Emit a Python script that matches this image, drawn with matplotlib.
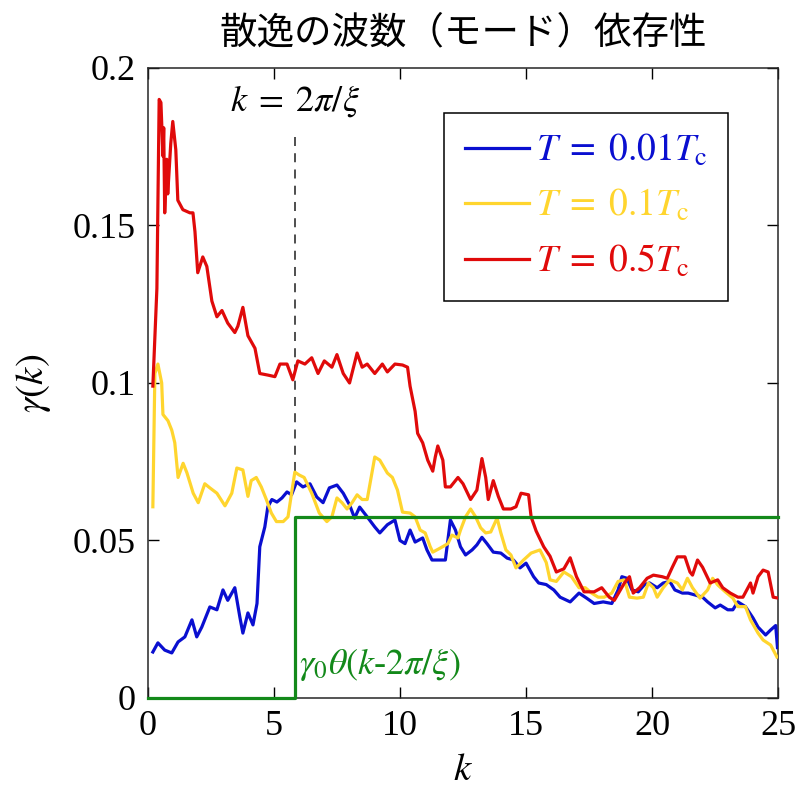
import matplotlib
matplotlib.use('Agg')
import matplotlib.pyplot as plt
import numpy as np

plt.rcParams['font.family'] = ['Liberation Serif', 'Noto Sans CJK JP', 'DejaVu Sans']
plt.rcParams['mathtext.fontset'] = 'stix'

k_red = [0.2, 0.36, 0.45, 0.52, 0.6, 0.63, 0.67, 0.75, 0.79, 0.91, 0.99, 1.11, 1.19, 1.39, 1.67, 1.79,
         1.87, 1.98, 2.18, 2.34, 2.54, 2.74, 2.94, 3.17, 3.45, 3.57, 3.77, 3.97, 4.25, 4.44, 4.76, 5.04,
         5.24, 5.52, 5.75, 5.95, 6.23, 6.5, 6.75, 7.0, 7.3, 7.5, 7.75, 8.0, 8.3, 8.5, 8.7, 9.0, 9.3, 9.5,
         9.8, 10.1, 10.3, 10.4, 10.6, 10.7, 10.9, 11.1, 11.3, 11.4, 11.5, 11.7, 11.8, 12.0, 12.3, 12.5,
         12.8, 13.05, 13.25, 13.4, 13.5, 13.7, 13.9, 14.1, 14.4, 14.6, 14.8, 15.1, 15.2, 15.4, 15.7, 15.95,
         16.2, 16.5, 16.75, 17.0, 17.3, 17.7, 18.0, 18.3, 18.5, 18.9, 19.1, 19.25, 19.5, 19.8, 20.05, 20.4,
         20.6, 20.8, 21.0, 21.3, 21.5, 21.6, 21.8, 22.0, 22.3, 22.6, 22.8, 23.1, 23.4, 23.6, 23.9, 24.0,
         24.2, 24.4, 24.6, 24.8, 25.0]
g_red = [0.099, 0.13, 0.19, 0.189, 0.172, 0.181, 0.154, 0.171, 0.160, 0.176, 0.183, 0.174, 0.158, 0.155,
         0.154, 0.154, 0.148, 0.135, 0.140, 0.137, 0.126, 0.121, 0.123, 0.119, 0.116, 0.118, 0.124, 0.115,
         0.111, 0.103, 0.1025, 0.102, 0.106, 0.106, 0.101, 0.107, 0.106, 0.108, 0.103, 0.107, 0.105, 0.109,
         0.103, 0.100, 0.1095, 0.105, 0.106, 0.103, 0.106, 0.1035, 0.106, 0.1057, 0.105, 0.099, 0.091,
         0.084, 0.081, 0.0755, 0.072, 0.0765, 0.080, 0.0755, 0.067, 0.067, 0.070, 0.068, 0.063, 0.066,
         0.076, 0.070, 0.063, 0.069, 0.064, 0.060, 0.060, 0.0607, 0.065, 0.0645, 0.0575, 0.053, 0.048,
         0.045, 0.040, 0.041, 0.0445, 0.0385, 0.0337, 0.0337, 0.035, 0.032, 0.031, 0.0365, 0.0385, 0.0333,
         0.035, 0.038, 0.039, 0.0385, 0.038, 0.0415, 0.0448, 0.0448, 0.040, 0.039, 0.0438, 0.0415, 0.0365,
         0.0375, 0.035, 0.0333, 0.032, 0.032, 0.0365, 0.0333, 0.0385, 0.0406, 0.040, 0.032, 0.0317]

k_yel = [0.2, 0.28, 0.4, 0.55, 0.6, 0.8, 0.95, 1.07, 1.2, 1.4, 1.55, 1.8, 2.0, 2.26, 2.46, 2.74, 3.06,
         3.33, 3.53, 3.77, 3.97, 4.1, 4.3, 4.5, 4.7, 4.9, 5.1, 5.37, 5.56, 5.7, 5.83, 6.0, 6.2, 6.5, 6.8,
         7.1, 7.3, 7.5, 7.7, 7.9, 8.1, 8.3, 8.5, 8.7, 9.0, 9.2, 9.5, 9.7, 9.9, 10.1, 10.4, 10.6, 10.8,
         11.0, 11.2, 11.3, 11.6, 11.9, 12.06, 12.3, 12.4, 12.6, 12.8, 13.0, 13.2, 13.4, 13.6, 13.85, 14.0,
         14.2, 14.4, 14.6, 14.9, 15.2, 15.55, 15.8, 15.95, 16.2, 16.5, 16.8, 17.1, 17.35, 17.6, 17.86,
         18.1, 18.4, 18.65, 18.9, 19.1, 19.4, 19.65, 19.85, 20.05, 20.2, 20.44, 20.7, 21.0, 21.2, 21.4,
         21.6, 21.9, 22.2, 22.4, 22.6, 22.9, 23.2, 23.4, 23.7, 23.9, 24.2, 24.4, 24.7, 24.95]
g_yel = [0.0607, 0.103, 0.106, 0.100, 0.090, 0.088, 0.085, 0.081, 0.070, 0.0745, 0.0715, 0.065, 0.062,
         0.068, 0.0667, 0.065, 0.061, 0.065, 0.073, 0.0724, 0.064, 0.069, 0.070, 0.067, 0.063, 0.0587,
         0.056, 0.056, 0.0575, 0.065, 0.0717, 0.0708, 0.070, 0.065, 0.0587, 0.056, 0.0575, 0.0635, 0.062,
         0.060, 0.062, 0.0645, 0.063, 0.063, 0.0765, 0.0755, 0.0714, 0.070, 0.066, 0.059, 0.0587, 0.0575,
         0.0533, 0.0524, 0.048, 0.0463, 0.0476, 0.049, 0.0517, 0.0508, 0.0533, 0.0575, 0.060, 0.0575,
         0.054, 0.0524, 0.0527, 0.0571, 0.0524, 0.047, 0.0454, 0.0413, 0.0438, 0.046, 0.047, 0.043, 0.0375,
         0.037, 0.040, 0.0385, 0.035, 0.035, 0.0333, 0.032, 0.032, 0.0333, 0.037, 0.0375, 0.032, 0.0317,
         0.032, 0.0365, 0.035, 0.032, 0.035, 0.0375, 0.0365, 0.0343, 0.038, 0.035, 0.0317, 0.0343, 0.038,
         0.0359, 0.0337, 0.0317, 0.029, 0.029, 0.0248, 0.0206, 0.0184, 0.0168, 0.013]

k_blu = [0.2, 0.4, 0.67, 0.95, 1.2, 1.47, 1.75, 1.94, 2.14, 2.46, 2.74, 2.98, 3.17, 3.45, 3.65, 3.77,
         3.97, 4.17, 4.33, 4.44, 4.64, 4.76, 4.92, 5.12, 5.32, 5.52, 5.7, 5.9, 6.15, 6.43, 6.7, 6.95, 7.2,
         7.5, 7.75, 8.0, 8.2, 8.4, 8.7, 9.0, 9.2, 9.5, 9.8, 10.0, 10.2, 10.4, 10.6, 10.9, 11.07, 11.27,
         11.5, 11.8, 12.0, 12.2, 12.4, 12.6, 12.86, 13.05, 13.25, 13.45, 13.7, 14.0, 14.25, 14.5, 14.76,
         15.0, 15.3, 15.5, 15.8, 16.1, 16.35, 16.75, 17.1, 17.4, 17.7, 18.06, 18.4, 18.65, 18.8, 19.0,
         19.2, 19.45, 19.7, 19.9, 20.2, 20.44, 20.7, 20.9, 21.2, 21.43, 21.7, 22.0, 22.2, 22.5, 22.7, 23.0,
         23.2, 23.4, 23.7, 24.0, 24.2, 24.5, 24.7, 24.9, 24.97]
g_blu = [0.0146, 0.0175, 0.0152, 0.0143, 0.0178, 0.0194, 0.0248, 0.0194, 0.0225, 0.0289, 0.028, 0.0343,
         0.031, 0.035, 0.0257, 0.0206, 0.027, 0.0232, 0.030, 0.048, 0.0543, 0.0607, 0.063, 0.0622, 0.0635,
         0.0654, 0.0645, 0.0686, 0.067, 0.068, 0.0638, 0.062, 0.0667, 0.0676, 0.065, 0.0613, 0.0571,
         0.0606, 0.0575, 0.0543, 0.0524, 0.055, 0.0565, 0.050, 0.049, 0.0533, 0.0495, 0.0508, 0.047,
         0.0438, 0.0438, 0.0438, 0.0565, 0.0533, 0.048, 0.0454, 0.047, 0.0486, 0.051, 0.049, 0.0463,
         0.046, 0.0444, 0.0438, 0.0413, 0.0428, 0.0385, 0.0365, 0.036, 0.0343, 0.032, 0.0305, 0.0333,
         0.0317, 0.030, 0.0305, 0.030, 0.0343, 0.0385, 0.038, 0.0343, 0.0337, 0.036, 0.0365, 0.035, 0.0365,
         0.037, 0.0343, 0.0333, 0.0333, 0.0327, 0.032, 0.0305, 0.0286, 0.0295, 0.028, 0.028, 0.0305,
         0.029, 0.0254, 0.0225, 0.020, 0.0216, 0.023, 0.016]

k_cut = 5.83        # 2*pi/xi
gamma0 = 0.0573
x_ticks = [0, 5, 10, 15, 20, 25]
y_ticks = [0, 0.05, 0.1, 0.15, 0.2]
y_ticklabels = ['0', '0.05', '0.1', '0.15', '0.2']

c_blue = '#0a0fd0'
c_yel = '#ffd52e'
c_red = '#e00a0a'
c_green = '#13891a'

fig = plt.figure(figsize=(7.99, 8.01), dpi=100)
ax = fig.add_axes([0.185, 0.1286, 0.789, 0.7866])

lw = 2.3
ax.plot(k_blu, g_blu, color=c_blue, lw=lw, label=r'$T\;=\;0.01T_{\rm c}\;$', zorder=3)
ax.plot(k_yel, g_yel, color=c_yel, lw=lw, label=r'$T\;=\;0.1T_{\rm c}\;$', zorder=3)
ax.plot(k_red, g_red, color=c_red, lw=lw, label=r'$T\;=\;0.5T_{\rm c}\;$', zorder=3)

# step function gamma0 * theta(k - 2pi/xi)
ax.plot([0, k_cut, k_cut, 25], [0, 0, gamma0, gamma0], color=c_green, lw=lw,
        clip_on=False, zorder=4)

ax.plot([k_cut, k_cut], [0.072, 0.178], color='#404040', lw=1.3, ls=(0, (5, 4)), zorder=2)
ax.text(k_cut, 0.1895, r'$k\;=\;2\pi/\xi$', ha='center', va='center', fontsize=26)
ax.text(6.0, 0.0105, r'$\gamma_0\theta(k$-$2\pi/\xi)$', ha='left', va='center', fontsize=26,
        color=c_green)

ax.set_xlim(0, 25)
ax.set_ylim(0, 0.2)
ax.set_xticks(x_ticks)
ax.set_yticks(y_ticks)
ax.set_yticklabels(y_ticklabels)
ax.tick_params(direction='in', length=8, width=1, top=True, right=True, labelsize=26, pad=9)
for s in ax.spines.values():
    s.set_linewidth(1.1)
    s.set_color('#262626')

ax.set_xlabel(r'$k$', fontsize=28, labelpad=6)
ax.set_ylabel(r'$\gamma(k)$', fontsize=28, labelpad=14)
ax.set_title('散逸の波数（モード）依存性', fontsize=27, family=['Noto Sans CJK JP'], pad=18)

leg = ax.legend(loc='upper right', bbox_to_anchor=(0.921, 0.929), fontsize=27, fancybox=False,
                edgecolor='black', framealpha=1, handlelength=1.7, handletextpad=0.2,
                borderpad=0.55, labelspacing=0.5, borderaxespad=0)
leg.get_frame().set_linewidth(1.1)
for txt, line in zip(leg.get_texts(), leg.get_lines()):
    txt.set_color(line.get_color())

fig.savefig('out.png', dpi=100)
